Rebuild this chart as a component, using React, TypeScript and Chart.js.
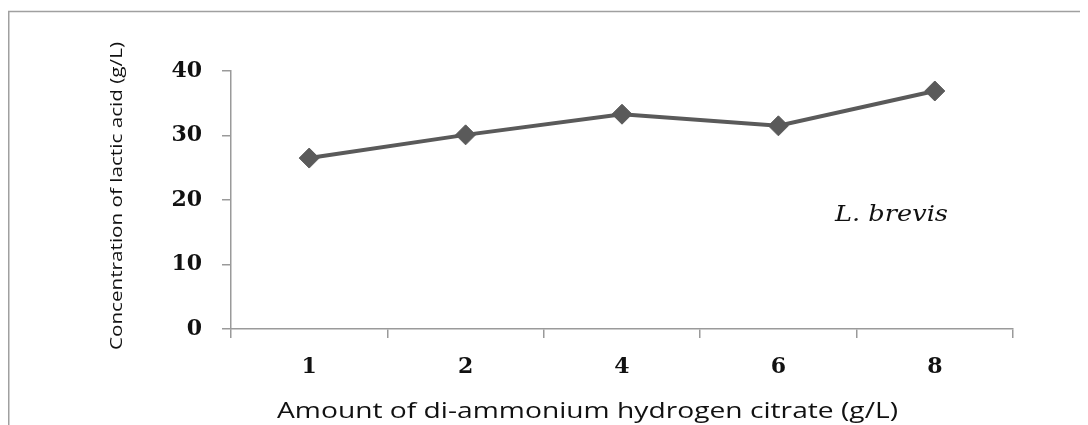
import React, { useEffect, useRef } from "react";
import { Chart, registerables } from "chart.js";

Chart.register(...registerables);

const categories = ["1", "2", "4", "6", "8"];
const lacticAcid = [26.5, 30.1, 33.3, 31.5, 36.9];
const yTicks = [0, 10, 20, 30, 40];
const xTitle = "Amount of di-ammonium hydrogen citrate (g/L)";
const yTitle = "Concentration of lactic acid (g/L)";
const strainLabel = "L. brevis";

const AXIS = "#9a9a9a";
const LINE = "#5a5a5a";

function fitText(ctx: CanvasRenderingContext2D, text: string, x: number, y: number, width: number) {
  const w = ctx.measureText(text).width;
  const sx = width / w;
  ctx.save();
  ctx.translate(x, y);
  ctx.scale(sx, 1);
  ctx.fillText(text, 0, 0);
  ctx.restore();
}

const decor = {
  id: "decor",
  afterDraw(chart: any) {
    const ctx = chart.ctx as CanvasRenderingContext2D;
    ctx.save();
    // outer frame
    ctx.strokeStyle = "#a0a0a0";
    ctx.lineWidth = 1.5;
    ctx.beginPath();
    ctx.moveTo(0.75, chart.height);
    ctx.lineTo(0.75, 3.5);
    ctx.lineTo(chart.width, 3.5);
    ctx.stroke();

    ctx.fillStyle = "#111";
    ctx.textBaseline = "alphabetic";
    ctx.textAlign = "left";
    // x title
    ctx.font = "22px 'Open Sans', 'Noto Sans', sans-serif";
    fitText(ctx, xTitle, 269, 410, 621);
    // y title
    ctx.save();
    ctx.translate(114, 342);
    ctx.rotate(-Math.PI / 2);
    ctx.font = "16px 'Open Sans', 'Noto Sans', sans-serif";
    fitText(ctx, yTitle, 0, 0, 308);
    ctx.restore();
    // strain label
    ctx.font = "italic 22px 'DejaVu Serif', serif";
    fitText(ctx, strainLabel, 827, 213, 113);
    ctx.restore();
  },
};

const tickFont = { family: "'DejaVu Serif', serif", size: 22, weight: "bold" as const };

export default function App() {
  const ref = useRef<HTMLCanvasElement | null>(null);
  useEffect(() => {
    if (!ref.current) return;
    const chart = new Chart(ref.current, {
      type: "line",
      data: {
        labels: categories,
        datasets: [
          {
            data: lacticAcid,
            borderColor: LINE,
            backgroundColor: LINE,
            borderWidth: 4,
            pointStyle: "rectRot",
            pointRadius: 10,
            pointBorderWidth: 1,
            pointBackgroundColor: LINE,
            pointBorderColor: LINE,
            tension: 0,
          },
        ],
      },
      options: {
        animation: false,
        responsive: false,
        devicePixelRatio: 1,
        layout: { padding: { top: 63, right: 75, left: 0, bottom: 0 } },
        plugins: { legend: { display: false }, title: { display: false }, tooltip: { enabled: false } },
        scales: {
          x: {
            offset: true,
            grid: { offset: true, drawOnChartArea: false, drawTicks: true, tickLength: 9, color: AXIS, lineWidth: 1.5 },
            border: { display: true, color: AXIS, width: 1.5 },
            ticks: { color: "#111", padding: 16, font: tickFont },
            afterFit: (s: any) => { s.height = 96; },
          },
          y: {
            min: 0,
            max: 40,
            afterBuildTicks: (s: any) => { s.ticks = yTicks.map((v) => ({ value: v })); },
            grid: { drawOnChartArea: false, drawTicks: true, tickLength: 9, color: AXIS, lineWidth: 1.5 },
            border: { display: true, color: AXIS, width: 1.5 },
            ticks: { color: "#111", padding: 20, font: tickFont },
            afterFit: (s: any) => { s.width = 223; },
          },
        },
      },
      plugins: [decor],
    });
    return () => chart.destroy();
  }, []);
  return (
    <div style={{ width: 1080, height: 417 }}>
      <canvas ref={ref} width={1080} height={417} style={{ display: "block" }} />
    </div>
  );
}
